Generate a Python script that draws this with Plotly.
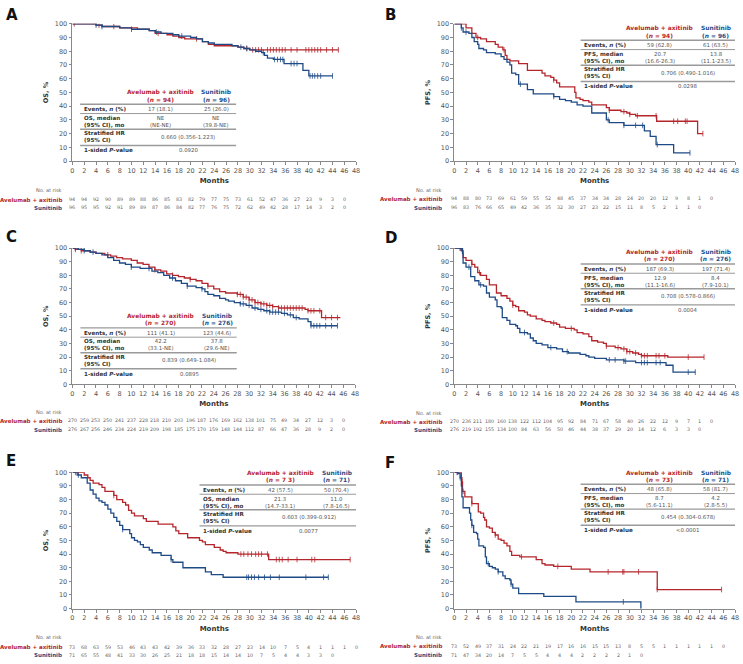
import plotly.graph_objects as go
import numpy as np

RED = "#B5262C"
BLUE = "#1E4B86"
GRAY = "#555555"
FONT = "DejaVu Sans"

# ---------------- Data ----------------
months_ticks = list(range(0, 50, 2))

# Panel A (OS, PD-L1+)
A_av_t = [0, 4, 5, 8, 11, 13, 14, 16, 17, 18, 19, 22, 23, 24, 28, 29, 30, 45]
A_av_s = [100, 99, 98, 97, 96, 95, 93, 92, 91, 90, 89, 87, 85, 84, 83, 82, 81, 81]
A_su_t = [0, 4, 5, 8, 10, 13, 14, 15, 17, 18, 20, 21, 22, 23, 24, 27, 28, 29, 30, 31, 32, 32.5, 33, 34, 35.8, 39, 40, 44]
A_su_s = [100, 99, 98, 97, 96, 95, 94, 93, 92, 91, 90, 89, 87, 86, 85, 84, 83, 82, 81, 80, 79, 77, 75, 74, 71, 66, 62, 62]
A_av_c = [0.3, 4.5, 7, 14.5, 21, 29.5, 30.5, 31, 31.5, 32, 33, 33.5, 34, 34.5, 35, 35.5, 36, 37, 38, 39.5, 40, 40.5, 41, 41.5, 42, 43, 44, 45]
A_su_c = [4, 5, 10, 14.2, 18.5, 28.5, 29.5, 32.3, 34.2, 34.7, 35.2, 35.6, 37, 37.5, 38, 40.2, 40.6, 41, 41.5, 42, 44]
A_risk_av = [94, 94, 92, 90, 89, 89, 88, 86, 85, 83, 82, 79, 77, 75, 73, 61, 52, 47, 36, 27, 23, 9, 3, 0]
A_risk_su = [96, 95, 95, 92, 91, 89, 89, 87, 86, 84, 82, 77, 76, 75, 72, 62, 49, 42, 28, 17, 14, 3, 2, 0]

# Panel B (PFS, PD-L1+)
B_av_t = [0, 1.5, 2, 3, 3.7, 4.5, 5.5, 7, 7.5, 8.3, 8.7, 9, 9.5, 11, 12.5, 15, 15.5, 16.5, 17, 17.5, 18, 20.6, 20.8, 21.5, 22, 23, 23.5, 26, 26.5, 28.5, 29.5, 30, 31, 34.6, 41.6, 42.5]
B_av_s = [100, 100, 97, 93, 90, 89, 87, 85, 83, 81, 77, 74, 73, 71, 66, 64, 62, 61, 59, 57, 54, 50, 46, 45, 44, 43, 41, 39, 37, 36, 35, 34, 33, 29, 20, 20]
B_su_t = [0, 1, 1.2, 1.5, 2.5, 3, 3.4, 4, 4.2, 5, 5.5, 7, 8, 8.5, 9, 9.5, 9.8, 10.5, 11, 12.5, 13.5, 17, 18, 19, 20, 21, 22, 23.5, 26, 26.5, 29, 32.5, 33.5, 34.5, 37.5, 40.3]
B_su_s = [100, 100, 97, 94, 93, 90, 87, 85, 82, 81, 79, 78, 76, 74, 72, 70, 64, 63, 56, 52, 49, 47, 45, 44, 43, 41, 40, 35, 30, 28, 26, 22, 18, 12, 6, 6]
B_av_c = [4, 8.5, 17, 26.5, 29, 30, 31.3, 34.5, 37.5, 38.2, 39.5, 39.8, 42.5]
B_su_c = [1.2, 2, 11.3, 17, 26.3, 29, 31, 32.2, 34.7, 40.3]
B_risk_av = [94, 88, 80, 73, 69, 61, 59, 55, 52, 48, 45, 37, 34, 34, 28, 24, 20, 20, 12, 9, 8, 1, 0]
B_risk_su = [96, 83, 76, 66, 65, 49, 42, 36, 35, 32, 30, 27, 23, 22, 15, 11, 8, 5, 2, 1, 1, 0]

# Panel C (OS, overall)
C_av_t = [0, 0.5, 1.5, 3, 4, 5.5, 6.5, 7.5, 8.5, 10, 11, 12, 13, 14, 15, 16, 17, 18, 19, 20, 21, 22, 23, 24, 25, 26, 28, 29, 30, 31, 32, 33, 34, 35, 39.5, 40, 42.3, 45.5]
C_av_s = [100, 99, 98, 97, 96, 95, 94, 93, 92, 91, 89, 88, 86, 84, 83, 81, 80, 79, 78, 77, 76, 74, 72, 70, 68, 67, 66, 64, 62, 60, 59, 58, 57, 56, 55, 54, 49, 49]
C_su_t = [0, 1, 2, 3, 4, 5, 6, 7, 8, 9, 10, 11.5, 13.5, 14.5, 15.5, 16.5, 17.5, 18.5, 19.5, 21, 22, 22.5, 23, 24, 25, 26, 26.5, 27.5, 28.5, 29.5, 30.5, 31.5, 32.5, 33.5, 35.5, 36.5, 37.5, 38.5, 40, 40.5, 45]
C_su_s = [100, 99, 98, 97, 96, 95, 93, 91, 89, 88, 86, 85, 83, 82, 80, 78, 76, 74, 72, 71, 70, 68, 66, 65, 63, 62, 61, 60, 59, 58, 56, 55, 54, 53, 52, 51, 49, 48, 46, 43, 43]
C_av_c = [0.5, 1.5, 6, 14, 17, 20, 23, 28, 28.5, 29, 29.5, 30, 30.5, 31, 31.5, 32, 32.5, 33, 33.5, 34, 35, 35.5, 36, 36.5, 37, 37.5, 38, 38.5, 39, 40, 40.5, 41, 42, 43, 44, 45]
C_su_c = [0.5, 2, 3.5, 10, 13, 17, 19.5, 22, 28.5, 29, 30, 31, 32, 33, 33.5, 34, 34.5, 35, 36, 37, 38, 40.5, 41, 41.5, 42, 43, 44, 45]
C_risk_av = [270, 259, 253, 250, 241, 237, 228, 218, 210, 203, 196, 187, 176, 169, 162, 138, 101, 75, 49, 34, 27, 12, 3, 0]
C_risk_su = [276, 267, 256, 246, 234, 224, 219, 209, 198, 185, 175, 170, 159, 148, 144, 112, 87, 66, 47, 36, 28, 9, 2, 0]

# Panel D (PFS, overall)
D_av_t = [0, 1, 1.2, 1.5, 2, 3, 3.5, 4, 4.5, 5.5, 6, 7.2, 8, 9, 9.5, 10, 10.5, 11, 12, 12.5, 13, 14, 15, 15.5, 16.5, 17.5, 18, 19, 20.5, 21, 22, 23, 23.5, 24.5, 25.5, 26, 27.5, 28.5, 29.5, 30.5, 31.5, 32, 36.5, 42.7]
D_av_s = [100, 100, 98, 93, 91, 88, 86, 82, 80, 77, 73, 67, 65, 63, 61, 58, 57, 54, 53, 51, 50, 48, 47, 46, 45, 44, 42, 41, 40, 38, 37, 35, 32, 31, 30, 28, 27, 26, 24, 23, 22, 21, 20, 20]
D_su_t = [0, 1.3, 1.4, 1.5, 2, 2.8, 3.5, 4.2, 5, 5.5, 6, 7, 7.3, 8, 8.2, 9, 9.5, 10.5, 10.8, 11.2, 12.5, 13, 13.5, 14, 15, 16, 17.5, 18.5, 19.5, 21.5, 22.5, 23, 24, 26, 29, 31, 36.2, 37.4, 41.2]
D_su_s = [100, 100, 96, 89, 86, 79, 76, 73, 72, 67, 64, 62, 57, 56, 49, 47, 44, 43, 41, 38, 37, 34, 32, 30, 29, 27, 26, 24, 23, 22, 21, 20, 19, 18, 17, 16, 14, 9, 9]
D_av_c = [1, 3, 4.3, 10, 17, 20, 26, 28, 29, 29.5, 30, 31, 32, 32.5, 33, 34.5, 35, 36, 40, 42.7]
D_su_c = [1, 2.5, 4.5, 12, 16.5, 19.3, 26.5, 27.5, 29, 29.3, 32, 32.5, 33, 34.5, 35.2, 40, 41.2]
D_risk_av = [270, 236, 211, 180, 160, 138, 122, 112, 104, 95, 92, 84, 71, 67, 58, 40, 26, 22, 12, 9, 7, 1, 0]
D_risk_su = [276, 219, 192, 155, 134, 100, 84, 63, 56, 50, 46, 44, 38, 37, 29, 20, 14, 12, 6, 3, 3, 0]

# Panel E (OS, PD-L1-)
E_av_t = [0, 1.5, 2, 2.6, 3, 3.5, 4.5, 5, 5.5, 7, 7.5, 8.5, 9, 9.5, 10, 10.5, 12, 12.5, 14.5, 17, 17.5, 18, 19.5, 21.5, 22, 22.5, 24, 25, 25.5, 26, 28, 33.2, 47]
E_av_s = [100, 100, 98, 96, 94, 92, 91, 89, 86, 83, 80, 78, 76, 72, 70, 68, 66, 64, 62, 60, 57, 55, 52, 50, 49, 47, 45, 43, 42, 41, 40, 36, 36]
E_su_t = [0, 0.5, 0.8, 1.5, 2.5, 3, 3.5, 4, 4.5, 5, 5.5, 6, 6.5, 7, 7.5, 8, 8.5, 9.7, 10, 10.5, 11, 11.5, 12, 13, 13.5, 15, 16.7, 17, 18.7, 22.5, 23.5, 25.5, 43.3]
E_su_s = [100, 100, 98, 96, 92, 87, 84, 81, 79, 78, 76, 73, 70, 67, 64, 61, 58, 55, 52, 50, 49, 47, 45, 43, 41, 39, 36, 34, 30, 27, 25, 23, 23]
E_av_c = [0.5, 1, 7, 28.5, 29, 29.7, 30.3, 31, 31.5, 32, 33, 34.5, 35, 35.5, 36.5, 38, 40.5, 41, 47]
E_su_c = [1, 8.5, 16.7, 29.5, 29.8, 30.3, 30.8, 31.5, 32.5, 33.5, 35, 39.5, 42.5, 43.3]
E_risk_av = [73, 68, 63, 59, 53, 46, 43, 43, 42, 39, 36, 33, 32, 28, 27, 23, 14, 10, 7, 5, 4, 1, 1, 1, 0]
E_risk_su = [71, 65, 55, 48, 41, 33, 30, 26, 25, 21, 18, 18, 15, 14, 14, 10, 7, 5, 4, 4, 3, 3, 0]

# Panel F (PFS, PD-L1-)
F_av_t = [0, 1, 1.2, 1.3, 1.4, 1.8, 3, 4.1, 4.5, 5, 5.2, 5.5, 6, 6.5, 7, 7.5, 8, 8.5, 9, 9.5, 9.8, 11.2, 14, 15, 15.5, 17, 20, 23.2, 34.7, 45.7]
F_av_s = [100, 100, 96, 93, 86, 82, 77, 71, 70, 67, 65, 60, 59, 56, 54, 51, 50, 48, 46, 42, 39, 38, 36, 33, 32, 31, 29, 27, 14, 14]
F_su_t = [0, 0.5, 0.7, 1, 1.2, 1.3, 1.5, 2.6, 2.8, 3, 3.3, 3.8, 4, 4.2, 5, 5.3, 5.5, 6, 6.5, 7, 7.5, 8.3, 8.7, 9.5, 9.7, 10, 11, 15.3, 20.8, 31.9]
F_su_s = [100, 100, 99, 96, 90, 82, 74, 70, 65, 61, 56, 55, 51, 46, 45, 38, 33, 31, 30, 29, 27, 24, 22, 21, 18, 15, 11, 9, 5, 0]
F_av_c = [0.5, 1.3, 1.5, 3, 7, 11.5, 17.7, 26.3, 28.8, 29, 31.5, 34.7, 45.7]
F_su_c = [0.5, 1, 3, 5.8, 7.5, 9.7, 28.9]
F_risk_av = [73, 52, 49, 37, 31, 24, 22, 21, 19, 17, 16, 16, 15, 15, 13, 8, 5, 5, 1, 1, 1, 1, 1, 0]
F_risk_su = [71, 47, 34, 20, 14, 7, 5, 5, 4, 4, 4, 2, 2, 2, 2, 1, 0]

# Tables
A_tab = ["94", "96", "17 (18.1)", "25 (26.0)", "NE<br>(NE-NE)", "NE<br>(39.8-NE)", "0.660 (0.356-1.223)", "0.0920"]
B_tab = ["94", "96", "59 (62.8)", "61 (63.5)", "20.7<br>(16.6-26.3)", "13.8<br>(11.1-23.5)", "0.706 (0.490-1.016)", "0.0298"]
C_tab = ["270", "276", "111 (41.1)", "123 (44.6)", "42.2<br>(33.1-NE)", "37.8<br>(29.6-NE)", "0.839 (0.649-1.084)", "0.0895"]
D_tab = ["270", "276", "187 (69.3)", "197 (71.4)", "12.9<br>(11.1-16.6)", "8.4<br>(7.9-10.1)", "0.708 (0.578-0.866)", "0.0004"]
E_tab = ["7 3", "71", "42 (57.5)", "50 (70.4)", "21.3<br>(14.7-33.1)", "11.0<br>(7.8-16.5)", "0.603 (0.399-0.912)", "0.0077"]
F_tab = ["73", "71", "48 (65.8)", "58 (81.7)", "8.7<br>(5.6-11.1)", "4.2<br>(2.8-5.5)", "0.454 (0.304-0.678)", "<0.0001"]

# ---------------- Layout geometry (pixels) ----------------
W, H = 743, 664
panels = [
    dict(L="A", ep="OS", xpx=(71, 357), ypx=(20, 159), lbl=(2, 11), risk_y=(188, 198, 206), lab_x=63,
         tab=dict(l=1.3, r=27.7, c1=14.9, c2=24.3, T=50), tv=A_tab,
         av=(A_av_t, A_av_s, A_av_c), su=(A_su_t, A_su_s, A_su_c), rk=(A_risk_av, A_risk_su)),
    dict(L="B", ep="PFS", xpx=(456, 739), ypx=(20, 159), lbl=(384, 11), risk_y=(188, 197, 206), lab_x=446,
         tab=dict(l=21.6, r=48, c1=35.1, c2=44.7, T=96.6), tv=B_tab,
         av=(B_av_t, B_av_s, B_av_c), su=(B_su_t, B_su_s, B_su_c), rk=(B_risk_av, B_risk_su)),
    dict(L="C", ep="OS", xpx=(71, 356), ypx=(247, 385), lbl=(2, 236), risk_y=(413, 422, 431), lab_x=63,
         tab=dict(l=1.35, r=27.9, c1=15.0, c2=24.6, T=50), tv=C_tab,
         av=(C_av_t, C_av_s, C_av_c), su=(C_su_t, C_su_s, C_su_c), rk=(C_risk_av, C_risk_su)),
    dict(L="D", ep="PFS", xpx=(456, 739), ypx=(247, 385), lbl=(384, 237), risk_y=(414, 423, 431), lab_x=446,
         tab=dict(l=21.6, r=48, c1=35.1, c2=44.7, T=96.9), tv=D_tab,
         av=(D_av_t, D_av_s, D_av_c), su=(D_su_t, D_su_s, D_su_c), rk=(D_risk_av, D_risk_su)),
    dict(L="E", ep="OS", xpx=(71, 357), ypx=(474, 612), lbl=(2, 463), risk_y=(641, 651, 659), lab_x=63,
         tab=dict(l=21.5, r=48, c1=35.2, c2=44.7, T=99.3), tv=E_tab,
         av=(E_av_t, E_av_s, E_av_c), su=(E_su_t, E_su_s, E_su_c), rk=(E_risk_av, E_risk_su)),
    dict(L="F", ep="PFS", xpx=(456, 739), ypx=(474, 612), lbl=(384, 465), risk_y=(641, 650, 659), lab_x=446,
         tab=dict(l=21.6, r=48, c1=35.1, c2=44.7, T=99.8), tv=F_tab,
         av=(F_av_t, F_av_s, F_av_c), su=(F_su_t, F_su_s, F_su_c), rk=(F_risk_av, F_risk_su)),
]


def px_x(p):
    return p / W


def px_y(p):
    return 1 - p / H


def step_at(t, times, surv):
    idx = np.searchsorted(np.asarray(times), t, side="right") - 1
    return surv[max(idx, 0)]


fig = go.Figure()
annotations = []
shapes = []
layout_axes = {}

for i, p in enumerate(panels):
    n = i + 1
    xa = "x" if n == 1 else f"x{n}"
    ya = "y" if n == 1 else f"y{n}"
    xkey = "xaxis" if n == 1 else f"xaxis{n}"
    ykey = "yaxis" if n == 1 else f"yaxis{n}"

    for (t, s, c), col in ((p["av"], RED), (p["su"], BLUE)):
        fig.add_trace(go.Scatter(x=t, y=s, mode="lines", line=dict(color=col, width=1.3, shape="hv"),
                                 xaxis=xa, yaxis=ya, showlegend=False, hoverinfo="skip"))
        cy = [step_at(ct, t, s) for ct in c]
        fig.add_trace(go.Scatter(x=c, y=cy, mode="markers",
                                 marker=dict(symbol="line-ns", size=4, line=dict(color=col, width=0.8)),
                                 xaxis=xa, yaxis=ya, showlegend=False, hoverinfo="skip"))

    layout_axes[xkey] = dict(
        domain=[px_x(p["xpx"][0]), px_x(p["xpx"][1])], anchor=ya, range=[0, 48],
        tickmode="array", tickvals=months_ticks, ticks="outside", ticklen=3, tickwidth=0.8,
        tickcolor="#888", showline=True, linecolor="#888", linewidth=0.8, showgrid=False, zeroline=False,
        tickfont=dict(size=6.5, color=GRAY, family=FONT),
        title=dict(text="<b>Months</b>", font=dict(size=7, color="#333", family=FONT), standoff=4),
    )
    layout_axes[ykey] = dict(
        domain=[px_y(p["ypx"][1]), px_y(p["ypx"][0])], anchor=xa, range=[0, 100],
        tickmode="array", tickvals=list(range(0, 101, 10)), ticks="outside", ticklen=3, tickwidth=0.8,
        tickcolor="#888", showline=True, linecolor="#888", linewidth=0.8, showgrid=False, zeroline=False,
        tickfont=dict(size=6.5, color=GRAY, family=FONT),
        title=dict(text=f"<b>{p['ep']}, %</b>", font=dict(size=6.5, color="#333", family=FONT), standoff=5),
    )

    # panel letter
    annotations.append(dict(text=f"<b>{p['L']}</b>", x=px_x(p["lbl"][0]), y=px_y(p["lbl"][1]),
                            xref="paper", yref="paper", xanchor="left", yanchor="middle", showarrow=False,
                            font=dict(size=15, color="#111", family=FONT)))

    # at-risk table
    ry = p["risk_y"]
    annotations.append(dict(text="No. at risk", x=px_x(p["lab_x"]), y=px_y(ry[0]), xref="paper", yref="paper",
                            xanchor="right", yanchor="middle", showarrow=False,
                            font=dict(size=5, color="#666", family=FONT)))
    annotations.append(dict(text="<b>Avelumab + axitinib</b>", x=px_x(p["lab_x"]), y=px_y(ry[1]), xref="paper",
                            yref="paper", xanchor="right", yanchor="middle", showarrow=False,
                            font=dict(size=5.5, color=RED, family=FONT)))
    annotations.append(dict(text="<b>Sunitinib</b>", x=px_x(p["lab_x"]), y=px_y(ry[2]), xref="paper",
                            yref="paper", xanchor="right", yanchor="middle", showarrow=False,
                            font=dict(size=5.5, color=BLUE, family=FONT)))
    for row, yy in ((p["rk"][0], ry[1]), (p["rk"][1], ry[2])):
        for k, v in enumerate(row):
            annotations.append(dict(text=str(v), x=months_ticks[k], y=px_y(yy), xref=xa, yref="paper",
                                    xanchor="center", yanchor="middle", showarrow=False,
                                    font=dict(size=4.8, color="#666", family=FONT)))

    # inset summary table
    tb = p["tab"]
    T = tb["T"]
    tv = p["tv"]
    ep = p["ep"]
    mid = (tb["c1"] + tb["c2"]) / 2

    def ann(text, x, y, color="#555", anchor="center", size=5.4):
        annotations.append(dict(text=text, x=x, y=y, xref=xa, yref=ya, xanchor=anchor, yanchor="middle",
                                align=anchor if anchor in ("left", "right") else "center",
                                showarrow=False, font=dict(size=size, color=color, family=FONT)))

    ann("<b>Avelumab + axitinib</b>", tb["c1"], T, RED, size=5.9)
    ann(f"<b>(<i>n</i> = {tv[0]})</b>", tb["c1"], T - 5.2, RED, size=5.9)
    ann("<b>Sunitinib</b>", tb["c2"], T, BLUE, size=5.9)
    ann(f"<b>(<i>n</i> = {tv[1]})</b>", tb["c2"], T - 5.2, BLUE, size=5.9)
    lx = tb["l"] + 0.3
    ann("<b>Events, <i>n</i> (%)</b>", lx, T - 12.2, "#333", "left", 5.6)
    ann(tv[2], tb["c1"], T - 12.2)
    ann(tv[3], tb["c2"], T - 12.2)
    ann(f"<b>{ep}, median<br>(95% CI), mo</b>", lx, T - 21.1, "#333", "left", 5.6)
    ann(tv[4], tb["c1"], T - 21.1)
    ann(tv[5], tb["c2"], T - 21.1)
    ann("<b>Stratified HR<br>(95% CI)</b>", lx, T - 32.4, "#333", "left", 5.6)
    ann(tv[6], mid, T - 32.4)
    ann("<b>1-sided <i>P</i>-value</b>", lx, T - 42.2, "#333", "left", 5.6)
    ann(tv[7], mid, T - 42.2)
    for off, w in ((8.6, 1.4), (15.4, 1.0), (26.8, 1.4), (38.6, 1.4)):
        shapes.append(dict(type="line", xref=xa, yref=ya, x0=tb["l"], x1=tb["r"], y0=T - off, y1=T - off,
                           line=dict(color="#9a9a9a", width=w)))

fig.update_layout(
    width=W, height=H, margin=dict(l=0, r=0, t=0, b=0),
    paper_bgcolor="white", plot_bgcolor="white",
    font=dict(family=FONT, color=GRAY),
    annotations=annotations, shapes=shapes, **layout_axes,
)

fig.write_html("out.html", config={"displayModeBar": False},
               post_script="document.body.style.margin='0';document.body.style.overflow='hidden';")
